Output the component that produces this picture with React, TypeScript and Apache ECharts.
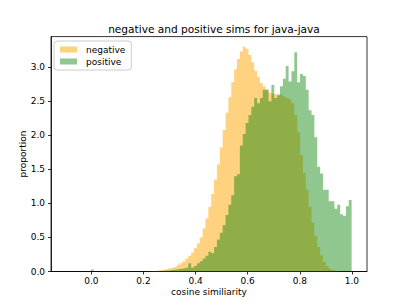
import React, { useEffect, useRef } from "react";
import * as echarts from "echarts";

// histogram bins: 100 bins of equal width starting at X_START
const X_START = -0.101;
const BIN_W = 0.011;
const N_BINS = 100;

const xTicks = [0.0, 0.2, 0.4, 0.6, 0.8, 1.0];
const yTicks = [0.0, 0.5, 1.0, 1.5, 2.0, 2.5, 3.0];

// proportion (density) per bin, bins 0..99
const negative = [
  0, 0, 0, 0, 0, 0, 0, 0, 0, 0,
  0, 0, 0, 0, 0, 0, 0, 0, 0, 0,
  0, 0, 0, 0, 0, 0, 0, 0, 0.003, 0.004,
  0.006, 0.01, 0.015, 0.02, 0.03, 0.04, 0.05, 0.06, 0.07, 0.1,
  0.12, 0.15, 0.19, 0.23, 0.28, 0.34, 0.41, 0.5, 0.63, 0.78,
  0.95, 1.14, 1.35, 1.57, 1.82, 2.08, 2.33, 2.56, 2.78, 2.97,
  3.12, 3.23, 3.3, 3.27, 3.18, 3.07, 2.95, 2.86, 2.77, 2.72,
  2.66, 2.63, 2.61, 2.6, 2.58, 2.6, 2.57, 2.55, 2.53, 2.47,
  2.3, 2.05, 1.71, 1.45, 1.2, 0.95, 0.72, 0.52, 0.36, 0.24,
  0.14, 0.08, 0.04, 0.02, 0.01, 0, 0, 0, 0, 0,
];

const positive = [
  0, 0, 0, 0, 0, 0, 0, 0, 0, 0.03,
  0, 0, 0, 0, 0, 0, 0, 0, 0, 0,
  0, 0, 0, 0, 0, 0, 0, 0, 0, 0,
  0.003, 0.005, 0.008, 0.01, 0.012, 0.015, 0.02, 0.025, 0.03, 0.035,
  0.04, 0.05, 0.06, 0.12, 0.06, 0.08, 0.12, 0.15, 0.19, 0.23,
  0.29, 0.27, 0.36, 0.47, 0.57, 0.68, 0.83, 0.98, 1.12, 1.4,
  1.43, 1.85, 2.02, 2.18, 2.3, 2.42, 2.55, 2.47, 2.55, 2.67,
  2.68, 2.5, 2.74, 2.55, 2.6, 2.72, 2.83, 3.02, 2.79, 2.94,
  3.22, 2.78, 2.9, 2.87, 2.67, 2.37, 2.3, 1.97, 1.54, 1.44,
  1.2, 1.2, 1.03, 1.03, 0.92, 0.98, 0.84, 0.82, 0.96, 1.05,
];

const FONT = "DejaVu Sans";
const ORANGE = "rgba(255,165,0,0.5)";
const GREEN = "rgba(0,128,0,0.44)";

function stepData(vals: number[]) {
  const out: [number, number][] = [];
  for (let i = 0; i < N_BINS; i++) out.push([X_START + i * BIN_W, vals[i]]);
  out.push([X_START + N_BINS * BIN_W, 0]);
  return out;
}

export default function App() {
  const ref = useRef<HTMLDivElement>(null);
  useEffect(() => {
    if (!ref.current) return;
    const chart = echarts.init(ref.current, null, { renderer: "svg" });
    const mkSeries = (name: string, vals: number[], color: string) => ({
      name,
      type: "line",
      step: "end",
      data: stepData(vals),
      showSymbol: false,
      symbol: "none",
      lineStyle: { width: 0, color },
      itemStyle: { color },
      areaStyle: { color, opacity: 1 },
      silent: true,
    });
    chart.setOption({
      animation: false,
      title: {
        text: "negative and positive sims for java-java",
        left: 209,
        top: 18,
        textAlign: "center",
        textStyle: { fontFamily: FONT, fontSize: 10.6, fontWeight: "normal", color: "#000" },
      },
      legend: {
        orient: "vertical",
        left: 54,
        top: 41,
        icon: "rect",
        itemWidth: 17,
        itemHeight: 6,
        itemGap: 3,
        padding: [4, 6, 4, 6],
        backgroundColor: "rgba(255,255,255,0.8)",
        borderColor: "#cccccc",
        borderWidth: 1,
        borderRadius: 3,
        textStyle: { fontFamily: FONT, fontSize: 9, color: "#000", padding: [0, 0, 0, 4] },
        data: ["negative", "positive"],
      },
      grid: {
        left: 51,
        right: 41,
        top: 36.6,
        bottom: 33.5,
        show: true,
        borderColor: "#000",
        borderWidth: 0.8,
        backgroundColor: "transparent",
      },
      xAxis: {
        type: "value",
        min: -0.155,
        max: 1.058,
        name: "cosine similiarity",
        nameLocation: "middle",
        nameGap: 16,
        nameMoveOverlap: false,
        nameTextStyle: { fontFamily: FONT, fontSize: 9, color: "#000" },
        axisLine: { show: true, onZero: false, lineStyle: { color: "#000", width: 0.8 } },
        axisTick: { show: true, inside: false, length: 3, lineStyle: { color: "#000", width: 0.8 }, customValues: xTicks },
        axisLabel: {
          fontFamily: FONT,
          fontSize: 9,
          color: "#000",
          margin: 5,
          customValues: xTicks,
          formatter: (v: number) => v.toFixed(1),
        },
        splitLine: { show: false },
      },
      yAxis: {
        type: "value",
        min: 0,
        max: 3.45,
        name: "proportion",
        nameLocation: "middle",
        nameGap: 24,
        nameRotate: 90,
        nameMoveOverlap: false,
        nameTextStyle: { fontFamily: FONT, fontSize: 9, color: "#000" },
        axisLine: { show: true, onZero: false, lineStyle: { color: "#000", width: 0.8 } },
        axisTick: { show: true, inside: false, length: 3, lineStyle: { color: "#000", width: 0.8 }, customValues: yTicks },
        axisLabel: {
          fontFamily: FONT,
          fontSize: 9,
          color: "#000",
          margin: 6,
          customValues: yTicks,
          formatter: (v: number) => v.toFixed(1),
        },
        splitLine: { show: false },
      },
      series: [mkSeries("negative", negative, ORANGE), mkSeries("positive", positive, GREEN)],
    });
    return () => chart.dispose();
  }, []);
  return (
    <div
      ref={ref}
      style={{ position: "fixed", left: 0, top: 0, width: 408, height: 305, background: "#fff" }}
    />
  );
}
